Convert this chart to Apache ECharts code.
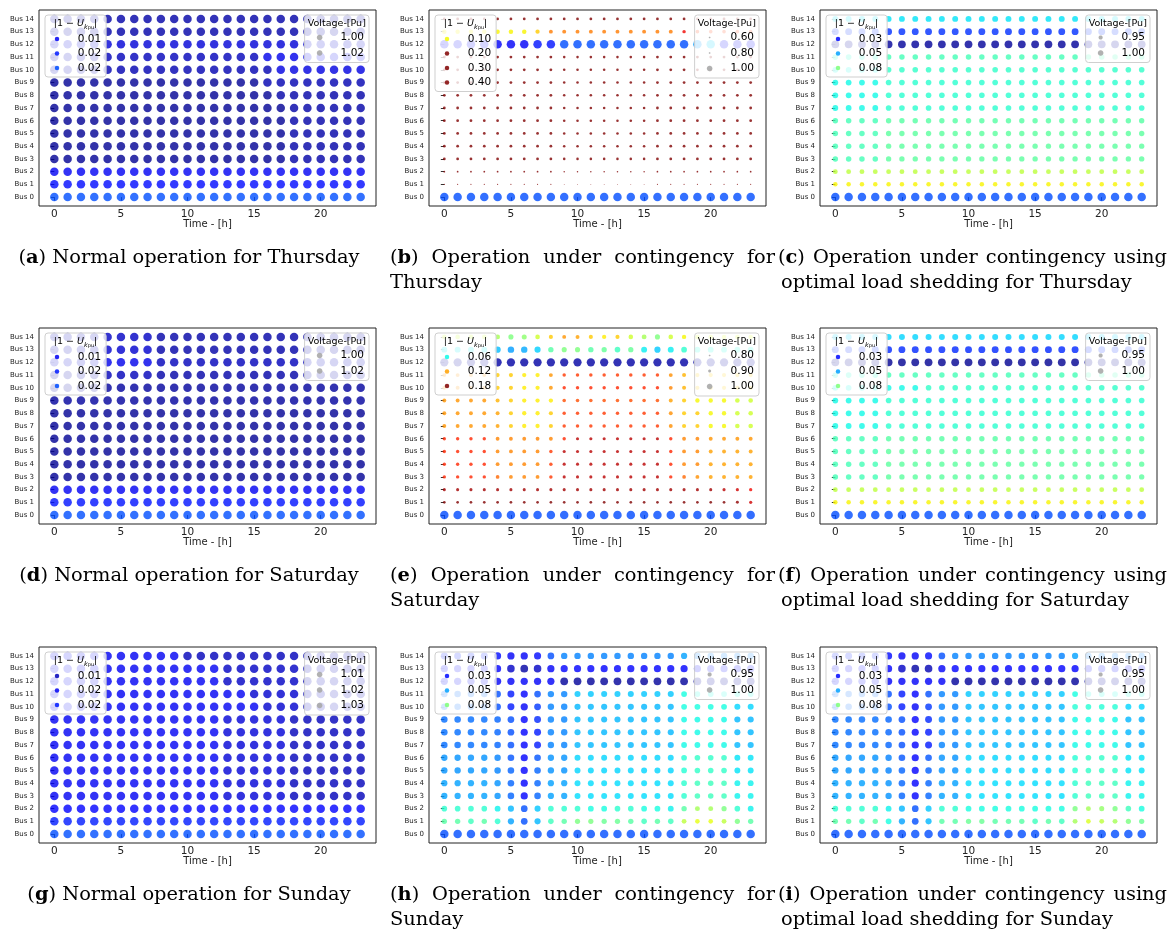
<!DOCTYPE html>
<html><head><meta charset="utf-8">
<script src="https://cdn.jsdelivr.net/npm/echarts@6.0.0/dist/echarts.min.js"></script>
<style>html,body{margin:0;padding:0;background:#fff}#c{width:1175px;height:934px}</style>
</head><body><div id="c"></div>
<script>
// ---------------- data ----------------
const HOURS = [0,1,2,3,4,5,6,7,8,9,10,11,12,13,14,15,16,17,18,19,20,21,22,23];
const BUS_TICKS = [0,1,2,3,4,5,6,7,8,9,10,11,12,13,14];
const BUS_LABELS = ['Bus 0','Bus 1','Bus 2','Bus 3','Bus 4','Bus 5','Bus 6','Bus 7','Bus 8','Bus 9','Bus 10','Bus 11','Bus 12','Bus 13','Bus 14'];
const TIME_TICKS = [0,5,10,15,20];

// bus voltage magnitudes, milli-pu; rows = Bus 0..14, columns = hour 0..23
const voltA = [
[1024,1024,1024,1024,1024,1024,1024,1024,1024,1024,1024,1024,1024,1024,1024,1024,1024,1024,1024,1024,1024,1024,1024,1024],
[1016,1016,1016,1016,1016,1016,1016,1016,1016,1016,1016,1016,1016,1016,1016,1016,1016,1016,1016,1016,1016,1016,1016,1016],
[1012,1012,1012,1012,1012,1012,1012,1012,1012,1012,1012,1012,1012,1012,1012,1012,1012,1012,1012,1012,1012,1012,1012,1012],
[1002,1002,1002,1002,1002,1002,1002,1002,1002,1002,1002,1002,1002,1002,1002,1002,1002,1002,1004,1004,1004,1004,1004,1004],
[1002,1002,1002,1002,1002,1002,1002,1002,1002,1002,1002,1002,1002,1002,1002,1002,1002,1002,1004,1004,1004,1004,1004,1004],
[1002,1002,1002,1002,1002,1002,1002,1002,1002,1002,1002,1002,1002,1002,1002,1002,1002,1002,1004,1004,1004,1004,1004,1004],
[1002,1002,1002,1002,1002,1002,1002,1002,1002,1002,1002,1002,1002,1002,1002,1002,1002,1002,1004,1004,1004,1004,1004,1004],
[1002,1002,1002,1002,1002,1002,1002,1002,1002,1002,1002,1002,1002,1002,1002,1002,1002,1002,1004,1004,1004,1004,1004,1004],
[1002,1002,1002,1002,1002,1002,1002,1002,1002,1002,1002,1002,1002,1002,1002,1002,1002,1004,1004,1004,1004,1004,1004,1004],
[1002,1002,1002,1002,1002,1002,1002,1002,1002,1002,1002,1002,1002,1002,1002,1002,1005,1005,1005,1005,1005,1005,1005,1005],
[1005,1005,1005,1005,1005,1005,1005,1005,1005,1005,1005,1005,1005,1005,1005,1005,1005,1010,1010,1010,1010,1010,1010,1010],
[1006,1006,1006,1006,1006,1006,1006,1006,1006,1006,1006,1006,1006,1006,1006,1006,1011,1011,1011,1011,1011,1011,1011,1011],
[1009,1009,1009,1009,1009,1009,1009,1009,1009,1009,1009,1009,1009,1009,1009,1009,1009,1009,1009,1008,1008,1008,1008,1008],
[1004,1004,1004,1004,1004,1004,1004,1004,1004,1004,1004,1004,1004,1004,1004,1004,1004,1004,1004,1004,1004,1004,1004,1004],
[1004,1004,1004,1004,1004,1004,1004,1004,1004,1004,1004,1004,1004,1004,1004,1004,1004,1004,1004,1004,1004,1004,1004,1004]];

const voltB = [
[1031,1031,1031,1031,1031,1031,1031,1031,1031,1031,1031,1031,1031,1031,1031,1031,1031,1031,1031,1031,1031,1031,1031,1031],
[720,720,720,720,720,720,720,720,720,690,690,690,690,690,690,690,715,715,715,715,715,715,715,715],
[770,770,770,770,770,770,770,770,770,750,750,750,750,750,750,750,765,765,765,765,765,765,765,765],
[830,830,830,830,830,830,830,830,830,820,820,820,820,820,820,820,830,830,830,830,830,830,830,830],
[830,830,830,830,830,830,830,830,830,820,820,820,820,820,820,820,830,830,830,830,830,830,830,830],
[830,830,830,830,830,830,830,830,830,820,820,820,820,820,820,820,830,830,830,830,830,830,830,830],
[830,830,830,830,830,830,830,830,830,820,820,820,820,820,820,820,830,830,830,830,830,830,830,830],
[830,830,830,830,830,830,830,830,830,820,820,820,820,820,820,820,830,830,830,830,830,830,830,830],
[830,830,830,830,830,830,830,830,830,820,820,820,820,820,820,820,830,830,830,830,830,830,830,830],
[830,830,830,830,830,830,830,830,830,820,820,820,820,820,820,820,830,830,830,830,830,830,830,830],
[830,830,830,830,830,830,830,830,830,820,820,820,820,820,820,820,830,830,830,830,830,830,830,830],
[830,830,830,830,830,830,830,830,830,820,820,820,820,820,820,820,830,830,830,830,830,830,830,830],
[1016,1016,1016,1016,1016,1016,1016,1022,1022,1031,1031,1031,1031,1031,1031,1031,1031,1031,1031,1043,1051,1016,1016,1016],
[899,899,899,899,899,899,899,892,879,879,879,879,879,879,879,879,879,879,860,868,868,868,868,868],
[830,830,830,830,830,830,830,830,830,830,830,830,830,830,830,830,830,830,830,830,830,830,830,830]];

const voltC = [
[1039,1039,1039,1039,1039,1039,1039,1039,1039,1039,1039,1039,1039,1039,1039,1039,1039,1039,1039,1039,1039,1039,1039,1039],
[900,900,900,900,900,900,900,900,900,900,900,900,900,900,900,900,900,900,900,900,900,900,900,900],
[910,910,910,910,910,910,910,910,910,910,910,910,910,910,910,910,910,910,910,910,910,910,910,910],
[930,930,930,930,926,926,926,926,926,926,926,926,926,926,926,926,926,926,926,926,926,926,926,926],
[930,930,930,930,926,926,926,926,926,926,926,926,926,926,926,926,926,926,926,926,926,926,926,926],
[930,930,930,930,926,926,926,926,926,926,926,926,926,926,926,926,926,926,926,926,926,926,926,926],
[930,930,930,930,927,927,927,927,927,927,927,927,927,927,927,927,927,927,927,927,927,927,927,927],
[938,938,938,938,934,934,934,934,934,934,934,934,934,934,934,934,934,934,934,934,934,934,934,934],
[938,938,938,938,934,934,934,934,934,934,934,934,934,934,934,934,934,934,934,934,934,934,934,934],
[938,938,938,938,934,934,934,934,934,934,934,934,934,934,934,934,934,934,934,934,934,934,934,934],
[938,938,938,938,933,933,933,933,933,933,933,933,933,933,933,933,933,933,933,933,933,933,933,933],
[934,934,934,934,930,930,930,930,930,930,930,930,930,930,930,930,930,930,930,930,930,930,930,930],
[985,985,985,985,985,985,985,985,985,985,985,985,985,985,985,985,985,985,985,985,985,985,985,985],
[965,965,965,965,965,965,965,965,965,965,965,965,965,965,965,965,965,965,965,965,965,965,965,965],
[941,941,941,941,941,941,941,941,941,941,941,941,941,941,941,941,941,941,941,941,941,941,941,941]];

const voltD = [
[1024,1024,1024,1024,1024,1024,1024,1024,1024,1024,1024,1024,1024,1024,1024,1024,1024,1024,1024,1024,1024,1024,1024,1024],
[1017,1017,1017,1017,1017,1017,1017,1017,1017,1017,1017,1017,1017,1017,1017,1017,1017,1017,1017,1017,1017,1017,1017,1017],
[1012,1012,1012,1012,1012,1012,1012,1012,1012,1012,1012,1012,1012,1012,1012,1012,1012,1012,1012,1012,1012,1012,1012,1012],
[1002,1002,1002,1002,1002,1002,1002,1002,1002,1002,1002,1002,1002,1002,1002,1002,1002,1002,1002,1002,1002,1002,1002,1002],
[1002,1002,1002,1002,1002,1002,1002,1002,1002,1002,1002,1002,1002,1002,1002,1002,1002,1002,1002,1002,1002,1002,1002,1002],
[1002,1002,1002,1002,1002,1002,1002,1002,1002,1002,1002,1002,1002,1002,1002,1002,1002,1002,1002,1002,1002,1002,1002,1002],
[1002,1002,1002,1002,1002,1002,1002,1002,1002,1002,1002,1002,1002,1002,1002,1002,1002,1002,1002,1002,1002,1002,1002,1002],
[1002,1002,1002,1002,1002,1002,1002,1002,1002,1002,1002,1002,1002,1002,1002,1002,1002,1002,1002,1002,1002,1002,1002,1002],
[1002,1002,1002,1002,1002,1002,1002,1002,1002,1002,1002,1002,1002,1002,1002,1002,1002,1002,1002,1002,1002,1002,1002,1002],
[1003,1003,1003,1003,1003,1003,1003,1003,1003,1003,1003,1003,1003,1003,1003,1003,1003,1003,1003,1003,1003,1003,1003,1003],
[1003,1003,1003,1003,1003,1003,1003,1003,1003,1003,1003,1003,1003,1003,1003,1003,1003,1003,1003,1003,1003,1003,1003,1003],
[1004,1004,1004,1004,1006,1006,1006,1006,1004,1004,1004,1004,1004,1004,1004,1004,1004,1004,1004,1004,1004,1004,1004,1004],
[1008,1008,1008,1008,1011,1011,1011,1011,1006,1006,1006,1006,1006,1006,1006,1006,1006,1006,1006,1006,1006,1006,1006,1006],
[1005,1005,1005,1005,1008,1008,1008,1008,1004,1004,1004,1004,1004,1004,1004,1004,1004,1004,1004,1004,1004,1004,1004,1004],
[1005,1005,1005,1005,1007,1007,1007,1007,1004,1004,1004,1004,1004,1004,1004,1004,1004,1004,1004,1004,1004,1004,1004,1004]];

const voltE = [
[1032,1032,1032,1032,1032,1032,1032,1032,1032,1032,1032,1032,1032,1032,1032,1032,1032,1032,1032,1032,1032,1032,1032,1032],
[825,825,825,825,825,825,825,825,825,825,825,825,825,825,825,825,825,825,825,825,825,825,840,849],
[843,843,843,843,843,843,843,843,843,843,843,843,843,843,843,843,843,843,843,843,843,846,849,854],
[859,859,859,859,870,875,875,875,862,846,846,846,846,846,846,846,846,859,870,877,880,880,880,880],
[859,859,859,859,875,875,875,875,862,846,846,846,846,846,846,846,846,859,875,875,880,880,880,880],
[859,859,859,859,875,875,875,875,862,846,846,846,846,846,846,846,846,859,875,875,880,880,880,880],
[859,859,859,859,875,875,875,875,875,859,846,846,846,846,846,846,846,859,875,875,878,878,878,878],
[878,878,878,878,880,887,893,893,887,862,862,862,862,862,862,862,862,877,887,887,895,895,903,903],
[878,878,878,878,880,887,893,893,887,862,862,862,862,862,862,862,862,877,887,887,895,895,903,903],
[878,878,878,878,883,887,893,893,893,866,866,866,866,866,866,866,866,880,887,895,895,895,903,903],
[878,878,878,878,887,887,893,893,878,859,859,859,859,859,859,859,859,875,883,887,887,887,887,887],
[878,878,878,878,887,887,893,893,878,862,862,862,862,862,862,862,862,877,883,887,887,887,887,887],
[995,995,995,995,995,995,995,995,995,995,995,995,995,995,995,995,995,995,995,995,995,995,995,995],
[942,942,942,942,950,955,953,947,927,919,919,927,924,932,924,942,948,942,935,938,938,938,938,938],
[903,903,903,903,911,919,916,903,887,878,880,887,893,887,903,911,919,903,895,900,900,900,900,900]];

const voltF = [
[1039,1039,1039,1039,1039,1039,1039,1039,1039,1039,1039,1039,1039,1039,1039,1039,1039,1039,1039,1039,1039,1039,1039,1039],
[900,900,900,900,900,900,900,900,900,900,900,900,900,900,900,900,900,900,900,900,900,900,900,900],
[910,910,910,910,910,910,910,910,910,910,910,910,910,910,910,910,910,910,910,910,910,910,910,910],
[930,930,930,930,926,926,926,926,926,926,926,926,926,926,926,926,926,926,926,926,926,926,926,926],
[930,930,930,930,926,926,926,926,926,926,926,926,926,926,926,926,926,926,926,926,926,926,926,926],
[930,930,930,930,926,926,926,926,926,926,926,926,926,926,926,926,926,926,926,926,926,926,926,926],
[930,930,930,930,927,927,927,927,927,927,927,927,927,927,927,927,927,927,927,927,927,927,927,927],
[938,938,938,938,934,934,934,934,934,934,934,934,934,934,934,934,934,934,934,934,934,934,934,934],
[938,938,938,938,934,934,934,934,934,934,934,934,934,934,934,934,934,934,934,934,934,934,934,934],
[938,938,938,938,934,934,934,934,934,934,934,934,934,934,934,934,934,934,934,934,934,934,934,934],
[938,938,938,938,938,938,938,933,933,933,933,933,933,933,933,933,933,933,933,933,933,933,933,933],
[934,934,934,934,930,930,930,930,930,930,930,930,930,930,930,930,930,930,930,930,930,930,930,930],
[986,986,986,986,986,986,986,986,986,986,986,986,986,986,986,986,986,986,986,986,986,986,986,986],
[966,966,966,966,966,966,966,966,966,966,966,966,966,966,966,966,966,966,966,966,966,966,966,966],
[943,943,943,943,943,943,943,943,943,943,943,943,943,943,943,943,943,943,943,943,943,943,943,943]];

const voltG = [
[1030,1030,1030,1030,1030,1030,1030,1030,1030,1030,1030,1030,1030,1030,1030,1030,1030,1030,1030,1030,1030,1030,1030,1030],
[1024,1024,1024,1024,1024,1024,1024,1024,1024,1024,1024,1024,1024,1024,1024,1024,1024,1024,1024,1024,1024,1024,1024,1024],
[1020,1020,1020,1020,1020,1020,1020,1020,1020,1020,1020,1020,1020,1020,1020,1020,1020,1020,1020,1020,1020,1020,1020,1020],
[1018,1018,1018,1018,1018,1018,1018,1018,1018,1018,1018,1018,1018,1015,1015,1015,1015,1015,1012,1012,1012,1012,1012,1012],
[1018,1018,1018,1018,1018,1018,1018,1018,1018,1018,1018,1018,1018,1015,1015,1015,1015,1015,1012,1012,1012,1012,1012,1012],
[1018,1018,1018,1018,1018,1018,1018,1018,1018,1018,1018,1018,1018,1015,1015,1015,1015,1015,1012,1012,1012,1012,1012,1012],
[1018,1018,1018,1018,1018,1018,1018,1018,1018,1018,1018,1018,1018,1015,1015,1015,1015,1015,1012,1012,1012,1012,1012,1012],
[1018,1018,1018,1018,1018,1018,1018,1018,1018,1018,1018,1018,1018,1015,1015,1015,1015,1015,1012,1012,1012,1012,1012,1012],
[1018,1018,1018,1018,1018,1018,1018,1018,1018,1018,1018,1018,1018,1015,1015,1015,1015,1015,1012,1012,1012,1012,1012,1012],
[1018,1018,1018,1018,1018,1018,1018,1018,1018,1018,1018,1018,1018,1015,1015,1015,1015,1015,1012,1012,1012,1012,1012,1012],
[1018,1018,1018,1018,1018,1018,1018,1018,1018,1018,1018,1018,1018,1018,1018,1018,1014,1014,1014,1011,1011,1011,1011,1011],
[1018,1018,1018,1018,1018,1018,1018,1018,1018,1018,1018,1018,1018,1018,1018,1014,1014,1014,1014,1011,1011,1011,1011,1011],
[1018,1018,1018,1018,1018,1018,1018,1018,1018,1018,1018,1018,1018,1013,1013,1013,1013,1013,1013,1011,1011,1011,1011,1011],
[1018,1018,1018,1018,1018,1018,1018,1018,1018,1018,1018,1018,1018,1013,1013,1013,1013,1013,1013,1011,1011,1011,1011,1011],
[1018,1018,1018,1018,1018,1018,1018,1018,1018,1018,1012,1012,1012,1012,1012,1012,1012,1012,1012,1011,1011,1011,1011,1011]];

const voltH = [
[1039,1039,1039,1039,1039,1039,1039,1039,1039,1039,1039,1039,1039,1039,1039,1039,1039,1039,1039,1039,1039,1039,1039,1039],
[927,927,931,927,934,950,961,947,931,927,921,921,924,924,927,931,927,931,910,903,903,910,921,927],
[934,934,934,934,939,947,961,945,934,934,934,937,937,934,934,937,937,939,927,914,914,921,934,939],
[950,950,950,950,952,958,972,958,950,950,942,942,942,942,942,942,942,942,934,931,931,931,939,939],
[950,950,950,950,952,958,972,958,950,950,942,942,942,942,942,942,942,942,934,931,931,931,939,939],
[952,952,952,952,954,958,972,958,952,952,943,943,943,943,943,943,943,943,935,933,933,933,941,941],
[952,952,952,952,954,960,972,960,952,952,943,943,943,943,943,943,943,943,935,933,933,933,941,941],
[957,957,957,957,958,961,972,968,954,954,947,947,947,947,947,947,947,947,938,938,938,938,947,947],
[957,957,957,957,958,961,972,968,954,954,947,947,947,947,947,947,947,947,938,938,938,938,947,947],
[957,957,957,957,958,961,972,966,954,954,947,947,947,947,947,947,947,947,938,938,938,938,947,947],
[957,957,957,957,961,968,974,964,954,954,947,947,947,947,947,947,947,947,937,937,937,937,943,943],
[957,957,957,957,961,968,972,961,954,954,945,945,945,945,945,945,945,945,937,937,937,937,937,937],
[974,974,974,974,974,974,974,974,974,985,985,985,985,985,985,985,985,985,985,985,985,985,985,985],
[972,972,972,972,972,980,984,980,974,972,972,972,972,972,972,972,972,972,972,972,972,972,972,972],
[968,968,968,968,970,974,974,970,961,954,954,954,954,954,954,954,954,954,950,954,954,954,954,954]];

const voltI = [
[1039,1039,1039,1039,1039,1039,1039,1039,1039,1039,1039,1039,1039,1039,1039,1039,1039,1039,1039,1039,1039,1039,1039,1039],
[927,927,931,927,937,950,961,947,927,927,924,924,927,927,927,931,927,931,914,905,910,914,921,924],
[934,934,934,934,939,947,961,945,934,934,937,937,937,937,937,937,937,937,921,914,917,921,931,937],
[950,950,950,950,952,958,972,958,950,950,942,942,942,942,942,942,942,942,934,931,931,931,939,939],
[950,950,950,950,952,958,972,958,950,950,942,942,942,942,942,942,942,942,934,931,931,931,939,939],
[952,952,952,952,954,958,972,958,952,952,943,943,943,943,943,943,943,943,935,933,933,933,941,941],
[952,952,952,952,954,960,972,960,952,952,943,943,943,943,943,943,943,943,935,933,933,933,941,941],
[957,957,957,957,958,961,972,968,954,954,947,947,947,947,947,947,947,947,938,938,938,938,947,947],
[957,957,957,957,958,961,972,968,954,954,947,947,947,947,947,947,947,947,938,938,938,938,947,947],
[957,957,957,957,958,961,972,966,954,954,947,947,947,947,947,947,947,947,938,938,938,938,947,947],
[957,957,957,957,961,968,974,964,954,954,947,947,947,947,947,947,947,947,935,935,935,935,943,943],
[957,957,957,957,961,968,972,961,954,954,945,945,945,945,945,945,945,945,937,937,937,937,937,937],
[974,974,974,974,974,974,974,974,974,985,985,985,985,985,985,985,985,985,985,985,985,985,985,985],
[972,972,972,972,972,980,984,982,974,972,972,972,972,972,972,972,972,972,972,972,972,972,972,972],
[968,968,968,968,970,974,974,970,961,954,954,954,954,954,954,954,954,954,950,954,954,954,954,954]];

// colour-scale ranges of |1-U| for each panel
const rangeNormal = [0, 0.12];
const rangeSunNormal = [0.006, 0.126];
const rangeThuCont = [0, 0.155];
const rangeSatCont = [0, 0.162];
const rangeShed = [0.012, 0.147];

// legend labels / values
const devLabelsNormal = ['0.01','0.02','0.02'];
const devValuesNormal = [0.012, 0.018, 0.024];
const devLabelsB = ['0.10','0.20','0.30','0.40'];
const devValuesB = [0.10, 0.20, 0.30, 0.40];
const devLabelsE = ['0.06','0.12','0.18'];
const devValuesE = [0.06, 0.12, 0.18];
const devLabelsShed = ['0.03','0.05','0.08'];
const devValuesShed = [0.03, 0.05, 0.08];
const voltLabelsAD = ['1.00','1.02'];
const voltValuesAD = [1.00, 1.02];
const voltLabelsB = ['0.60','0.80','1.00'];
const voltValuesB = [0.60, 0.80, 1.00];
const voltLabelsE = ['0.80','0.90','1.00'];
const voltValuesE = [0.80, 0.90, 1.00];
const voltLabelsShed = ['0.95','1.00'];
const voltValuesShed = [0.95, 1.00];
const voltLabelsG = ['1.01','1.02','1.03'];
const voltValuesG = [1.01, 1.02, 1.03];

const captions = [
  {label:'a', line1:'Normal operation for Thursday'},
  {label:'b', line1:'Operation under contingency for', line2:'Thursday', justify:true},
  {label:'c', line1:'Operation under contingency using', line2:'optimal load shedding for Thursday', justify:true},
  {label:'d', line1:'Normal operation for Saturday'},
  {label:'e', line1:'Operation under contingency for', line2:'Saturday', justify:true},
  {label:'f', line1:'Operation under contingency using', line2:'optimal load shedding for Saturday', justify:true},
  {label:'g', line1:'Normal operation for Sunday'},
  {label:'h', line1:'Operation under contingency for', line2:'Sunday', justify:true},
  {label:'i', line1:'Operation under contingency using', line2:'optimal load shedding for Sunday', justify:true}
];

const panels = [
  {id:'a', volt:voltA, range:rangeNormal, devL:devLabelsNormal, devV:devValuesNormal, vL:voltLabelsAD, vV:voltValuesAD},
  {id:'b', volt:voltB, range:rangeThuCont, devL:devLabelsB, devV:devValuesB, vL:voltLabelsB, vV:voltValuesB},
  {id:'c', volt:voltC, range:rangeShed, devL:devLabelsShed, devV:devValuesShed, vL:voltLabelsShed, vV:voltValuesShed},
  {id:'d', volt:voltD, range:rangeNormal, devL:devLabelsNormal, devV:devValuesNormal, vL:voltLabelsAD, vV:voltValuesAD},
  {id:'e', volt:voltE, range:rangeSatCont, devL:devLabelsE, devV:devValuesE, vL:voltLabelsE, vV:voltValuesE},
  {id:'f', volt:voltF, range:rangeShed, devL:devLabelsShed, devV:devValuesShed, vL:voltLabelsShed, vV:voltValuesShed},
  {id:'g', volt:voltG, range:rangeSunNormal, devL:devLabelsNormal, devV:devValuesNormal, vL:voltLabelsG, vV:voltValuesG},
  {id:'h', volt:voltH, range:rangeShed, devL:devLabelsShed, devV:devValuesShed, vL:voltLabelsShed, vV:voltValuesShed},
  {id:'i', volt:voltI, range:rangeShed, devL:devLabelsShed, devV:devValuesShed, vL:voltLabelsShed, vV:voltValuesShed}
];

// ---------------- layout / style ----------------
const COL_LEFT = [39, 429, 820], ROW_TOP = [10, 328, 647], GW = 337, GH = 196, CW = 1175;
const COL_CAP = [{center:189}, {left:390, right:775, left2:390}, {left:778, right:1167, left2:781}];
const SANS = 'DejaVu Sans', SERIF = 'DejaVu Serif';

function interp(seg, t){
  for (let k = 0; k < seg.length - 1; k++) {
    const a = seg[k], b = seg[k+1];
    if (t <= b[0]) return a[1] + (b[1]-a[1]) * (t-a[0]) / (b[0]-a[0]);
  }
  return seg[seg.length-1][1];
}
const JR = [[0,0],[0.35,0],[0.66,1],[0.89,1],[1,0.5]];
const JG = [[0,0],[0.125,0],[0.375,1],[0.64,1],[0.91,0],[1,0]];
const JB = [[0,0.5],[0.11,1],[0.34,1],[0.65,0],[1,0]];
function jet(t){
  t = Math.max(0, Math.min(1, t));
  return 'rgb(' + Math.round(255*interp(JR,t)) + ',' + Math.round(255*interp(JG,t)) + ',' + Math.round(255*interp(JB,t)) + ')';
}
function dotSize(V){ return 8.5 * Math.pow(Math.min(V, 1), 6); }
function legendDot(V){ return Math.max(1.7, 5.6 * Math.pow(Math.min(V, 1), 6)); }
// circle icon of diameter d px inside a 10x10 px legend icon box (path box 20x20 units)
function dotIcon(d){
  let s = 'path://M0 0M20 20';
  for (let k = 0; k <= 32; k++) {
    const a = k / 32 * Math.PI * 2;
    s += (k === 0 ? 'M' : 'L') + (10 + d*Math.cos(a)).toFixed(2) + ' ' + (10 + d*Math.sin(a)).toFixed(2);
  }
  return s + 'Z';
}
const mctx = document.createElement('canvas').getContext('2d');
function mw(text, size, family, weight){ mctx.font = (weight||'normal') + ' ' + size + 'px ' + family; return mctx.measureText(text).width; }

const LEG_FS = 10.5;
const CAP_FS = 20 * 381 / mw('(c) Operation under contingency using', 20, SERIF);

const labelOf = {};
const option = {
  animation: false,
  backgroundColor: '#fff',
  textStyle: {fontFamily: SANS},
  grid: [], xAxis: [], yAxis: [], series: [], legend: [],
  graphic: {elements: []}
};

panels.forEach((p, i) => {
  const col = i % 3, row = Math.floor(i / 3);
  const gl = COL_LEFT[col], gt = ROW_TOP[row];
  option.grid.push({left: gl, top: gt, width: GW, height: GH, show: true, borderColor: '#222', borderWidth: 1,
    backgroundColor: 'rgba(0,0,0,0)', containLabel: false, outerBoundsMode: 'none'});
  option.xAxis.push({type: 'value', gridIndex: i, min: -1.15, max: 24.15,
    axisLine: {show: false}, splitLine: {show: false},
    axisTick: {show: true, customValues: TIME_TICKS, length: 3.5, lineStyle: {color: '#333'}},
    axisLabel: {customValues: TIME_TICKS, fontSize: 10.5, color: '#222', margin: 2.5, fontFamily: SANS},
    name: 'Time - [h]', nameLocation: 'middle', nameGap: 13, nameMoveOverlap: false,
    nameTextStyle: {fontSize: 10, color: '#222', fontFamily: SANS}});
  option.yAxis.push({type: 'value', gridIndex: i, min: -0.7, max: 14.7,
    axisLine: {show: false}, splitLine: {show: false},
    axisTick: {show: true, customValues: BUS_TICKS, length: 3.5, lineStyle: {color: '#333'}},
    axisLabel: {customValues: BUS_TICKS, fontSize: 7, color: '#222', margin: 5, fontFamily: SANS,
      formatter: v => BUS_LABELS[Math.round(v)]}});
  const norm = d => (d - p.range[0]) / (p.range[1] - p.range[0]);
  const pts = [];
  p.volt.forEach((rowv, b) => rowv.forEach((mv, h) => {
    const V = mv / 1000;
    pts.push([HOURS[h], BUS_TICKS[b], V, Math.abs(1 - V)]);
  }));
  option.series.push({type: 'scatter', xAxisIndex: i, yAxisIndex: i, data: pts, symbol: 'circle',
    symbolSize: v => dotSize(v[2]),
    itemStyle: {opacity: 0.8, color: prm => jet(norm(prm.value[3]))},
    silent: true, emphasis: {disabled: true}, z: 2});

  const lTop = gt + 5;
  // colour legend (|1-U|)
  const cIds = p.devL.map((lab, k) => p.id + '-dev-' + k);
  cIds.forEach((nm, k) => {
    labelOf[nm] = p.devL[k];
    option.series.push({type: 'scatter', name: nm, xAxisIndex: i, yAxisIndex: i, data: [],
      itemStyle: {color: jet(norm(p.devV[k])), opacity: 0.85}});
  });
  const cPad = [18.5, 5, 3.5, 9.75], cIcon = 4.5, cTxtPad = 13.5;
  const cW = cPad[3] + cIcon + 5 + cTxtPad + Math.max(...p.devL.map(t => mw(t, LEG_FS, SANS))) + cPad[1];
  const cLeft = gl + 6;
  option.legend.push({orient: 'vertical', left: cLeft, top: lTop, padding: cPad, itemWidth: cIcon, itemHeight: cIcon, itemGap: 3.5,
    backgroundColor: 'rgba(255,255,255,0.8)', borderColor: '#cfcfcf', borderWidth: 1, borderRadius: 3,
    selectedMode: false, data: cIds.map(n => ({name: n, icon: 'circle'})), formatter: n => '{t|' + labelOf[n] + '}',
    textStyle: {fontSize: LEG_FS, color: '#000', fontFamily: SANS,
      rich: {t: {fontSize: LEG_FS, color: '#000', fontFamily: SANS, padding: [0, 0, 0, cTxtPad]}}}, z: 5});
  option.graphic.elements.push({type: 'text', x: cLeft + cW/2, y: lTop + 9, z: 100, style: {
    text: '{n||1 − }{u|U}{k|k}{q|pu}{n||}', align: 'center', verticalAlign: 'middle',
    rich: {
      n: {fontSize: 9.5, fontFamily: SANS, fill: '#000', lineHeight: 13},
      u: {fontSize: 9.5, fontFamily: SANS, fontStyle: 'italic', fill: '#000', lineHeight: 13},
      k: {fontSize: 6.5, fontFamily: SANS, fontStyle: 'italic', fill: '#000', lineHeight: 8, verticalAlign: 'bottom'},
      q: {fontSize: 5, fontFamily: SANS, fill: '#000', lineHeight: 5, verticalAlign: 'bottom'}
    }}});

  // size legend (Voltage)
  const vIds = p.vL.map((lab, k) => p.id + '-volt-' + k);
  vIds.forEach((nm, k) => {
    labelOf[nm] = p.vL[k];
    option.series.push({type: 'scatter', name: nm, xAxisIndex: i, yAxisIndex: i, data: [],
      itemStyle: {color: '#a9a9a9', opacity: 0.9}});
  });
  const vPad = [17, 5, 4, 10], vIcon = 10, vTxtPad = 11;
  const vW = vPad[3] + vIcon + 5 + vTxtPad + Math.max(...p.vL.map(t => mw(t, LEG_FS, SANS))) + vPad[1];
  const vRight = gl + GW - 7;
  option.legend.push({orient: 'vertical', right: CW - vRight, top: lTop, padding: vPad, itemWidth: vIcon, itemHeight: vIcon, itemGap: 4.5,
    backgroundColor: 'rgba(255,255,255,0.8)', borderColor: '#cfcfcf', borderWidth: 1, borderRadius: 3,
    selectedMode: false, data: vIds.map((n, k) => ({name: n, icon: dotIcon(legendDot(p.vV[k]))})), formatter: n => '{t|' + labelOf[n] + '}',
    textStyle: {fontSize: LEG_FS, color: '#000', fontFamily: SANS,
      rich: {t: {fontSize: LEG_FS, color: '#000', fontFamily: SANS, padding: [0, 0, 0, vTxtPad]}}}, z: 5});
  option.graphic.elements.push({type: 'text', x: vRight - vW/2, y: lTop + 8.5, z: 100, style: {
    text: 'Voltage-[Pu]', align: 'center', verticalAlign: 'middle', fontSize: 9.5, fontFamily: SANS, fill: '#000'}});

  // caption
  const cap = captions[i];
  const y1 = gt + 248, y2 = y1 + 25;
  const base = {fontFamily: SERIF, fontSize: CAP_FS, fill: '#000', verticalAlign: 'middle'};
  const rich = {b: {fontFamily: SERIF, fontSize: CAP_FS, fontWeight: 'bold', fill: '#000'}};
  const labelText = '({b|' + cap.label + '})';
  if (!cap.justify) {
    option.graphic.elements.push({type: 'text', x: COL_CAP[col].center, y: y1, z: 100,
      style: Object.assign({}, base, {text: labelText + ' ' + cap.line1, align: 'center', rich: rich})});
  } else {
    const labelW = mw('()', CAP_FS, SERIF) + mw(cap.label, CAP_FS, SERIF, 'bold');
    const words = cap.line1.split(' ');
    const widths = words.map(w => mw(w, CAP_FS, SERIF));
    const total = labelW + widths.reduce((a, b) => a + b, 0);
    const gap = (COL_CAP[col].right - COL_CAP[col].left - total) / words.length;
    let x = COL_CAP[col].left;
    option.graphic.elements.push({type: 'text', x: x, y: y1, z: 100,
      style: Object.assign({}, base, {text: labelText, align: 'left', rich: rich})});
    x += labelW + gap;
    words.forEach((w, k) => {
      option.graphic.elements.push({type: 'text', x: x, y: y1, z: 100, style: Object.assign({}, base, {text: w, align: 'left'})});
      x += widths[k] + gap;
    });
  }
  if (cap.line2) {
    option.graphic.elements.push({type: 'text', x: COL_CAP[col].left2, y: y2, z: 100,
      style: Object.assign({}, base, {text: cap.line2, align: 'left'})});
  }
});

const chart = echarts.init(document.getElementById('c'), null, {renderer: 'canvas'});
chart.setOption(option);
</script>
</body></html>
